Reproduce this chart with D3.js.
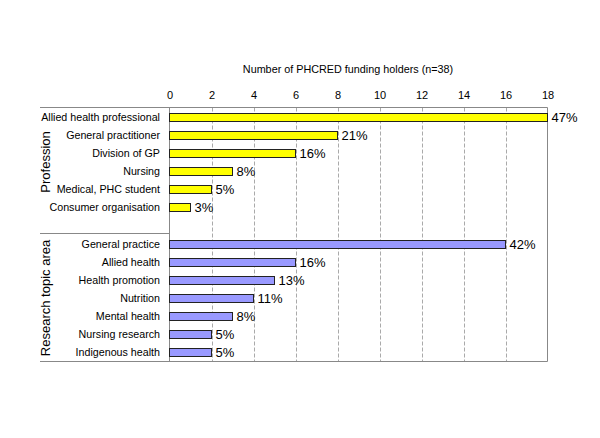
<!DOCTYPE html>
<html><head><meta charset="utf-8">
<script src="https://cdn.jsdelivr.net/npm/d3@7"></script>
<style>body{margin:0;background:#fff}svg{display:block}text{font-family:"Liberation Sans",Arial,sans-serif;fill:#000}</style>
</head><body>
<svg id="c" width="600" height="438"></svg>
<script>
const professionCats = ["Allied health professional","General practitioner","Division of GP","Nursing","Medical, PHC student","Consumer organisation"];
const professionVals = [18, 8, 6, 3, 2, 1];
const professionPct = ["47%","21%","16%","8%","5%","3%"];
const topicCats = ["General practice","Allied health","Health promotion","Nutrition","Mental health","Nursing research","Indigenous health"];
const topicVals = [16, 6, 5, 4, 3, 2, 2];
const topicPct = ["42%","16%","13%","11%","8%","5%","5%"];
const xTicks = [0,2,4,6,8,10,12,14,16,18];
const axisTitle = "Number of PHCRED funding holders (n=38)";
const groupLabels = ["Profession","Research topic area"];

const svg = d3.select("#c");
const L = 169.5, R = 547.5, T = 107.5, B = 361.5, outerL = 40;

const rows = [];
professionCats.forEach((c,i)=>rows.push({key:"p"+i,cat:c,v:professionVals[i],pct:professionPct[i],g:0}));
rows.push({key:"gap",cat:"",v:null,g:-1});
topicCats.forEach((c,i)=>rows.push({key:"t"+i,cat:c,v:topicVals[i],pct:topicPct[i],g:1}));

const x = d3.scaleLinear().domain([0,18]).range([L,R]);
const y = d3.scaleBand().domain(rows.map(r=>r.key)).range([T,B]).paddingInner(0).paddingOuter(0);

// grid
svg.append("g").selectAll("line").data(xTicks.filter(t=>t>0 && t<18)).join("line")
  .attr("x1",d=>Math.round(x(d))+0.5).attr("x2",d=>Math.round(x(d))+0.5)
  .attr("y1",T).attr("y2",B).attr("stroke","#aaa").attr("stroke-width",1).attr("stroke-dasharray","4,2");

// top axis tick labels
const ax = d3.axisTop(x).tickValues(xTicks).tickSize(0).tickPadding(0);
const gA = svg.append("g").attr("transform",`translate(0,${T-9})`).call(ax);
gA.select(".domain").remove();
gA.selectAll("text").attr("font-size","11px").attr("font-family","Liberation Sans, Arial, sans-serif").attr("dy","0");

svg.append("text").attr("x",348).attr("y",73).attr("text-anchor","middle").attr("font-size","10.8px").text(axisTitle);

// frame lines
svg.append("line").attr("x1",outerL).attr("x2",R).attr("y1",T).attr("y2",T).attr("stroke","#888");
svg.append("line").attr("x1",outerL).attr("x2",R).attr("y1",B).attr("y2",B).attr("stroke","#888");
svg.append("line").attr("x1",R).attr("x2",R).attr("y1",T).attr("y2",B).attr("stroke","#888");
svg.append("line").attr("x1",L).attr("x2",L).attr("y1",T).attr("y2",B).attr("stroke","#888");
const sepY = Math.round(y("t0"))-2+0.5;
svg.append("line").attr("x1",outerL).attr("x2",L).attr("y1",sepY).attr("y2",sepY).attr("stroke","#888");

const data = rows.filter(r=>r.v!=null);
const barH = 8;
svg.append("g").selectAll("rect").data(data).join("rect")
  .attr("x",x(0)).attr("y",d=>Math.round(y(d.key)+y.bandwidth()/2-barH/2)+0.5)
  .attr("width",d=>x(d.v)-x(0)).attr("height",barH)
  .attr("fill",d=>d.g===0?"#ffff00":"#9999ff").attr("stroke","#222").attr("stroke-width",1);

svg.append("g").selectAll("text").data(data).join("text")
  .attr("x",160).attr("y",d=>y(d.key)+y.bandwidth()/2+4).attr("text-anchor","end").attr("font-size","10.7px").text(d=>d.cat);

svg.append("g").selectAll("text").data(data).join("text")
  .attr("x",d=>x(d.v)+4).attr("y",d=>y(d.key)+y.bandwidth()/2+5).attr("font-size","13px").text(d=>d.pct);

// group labels
const g0c = (y("p0")+y("p5")+y.bandwidth())/2;
const g1c = (y("t0")+y("t6")+y.bandwidth())/2;
[[groupLabels[0],g0c],[groupLabels[1],g1c]].forEach(([t,cy])=>{
  svg.append("text").attr("transform",`translate(50,${cy}) rotate(-90)`).attr("text-anchor","middle").attr("font-size","13px").text(t);
});
</script>
</body></html>
